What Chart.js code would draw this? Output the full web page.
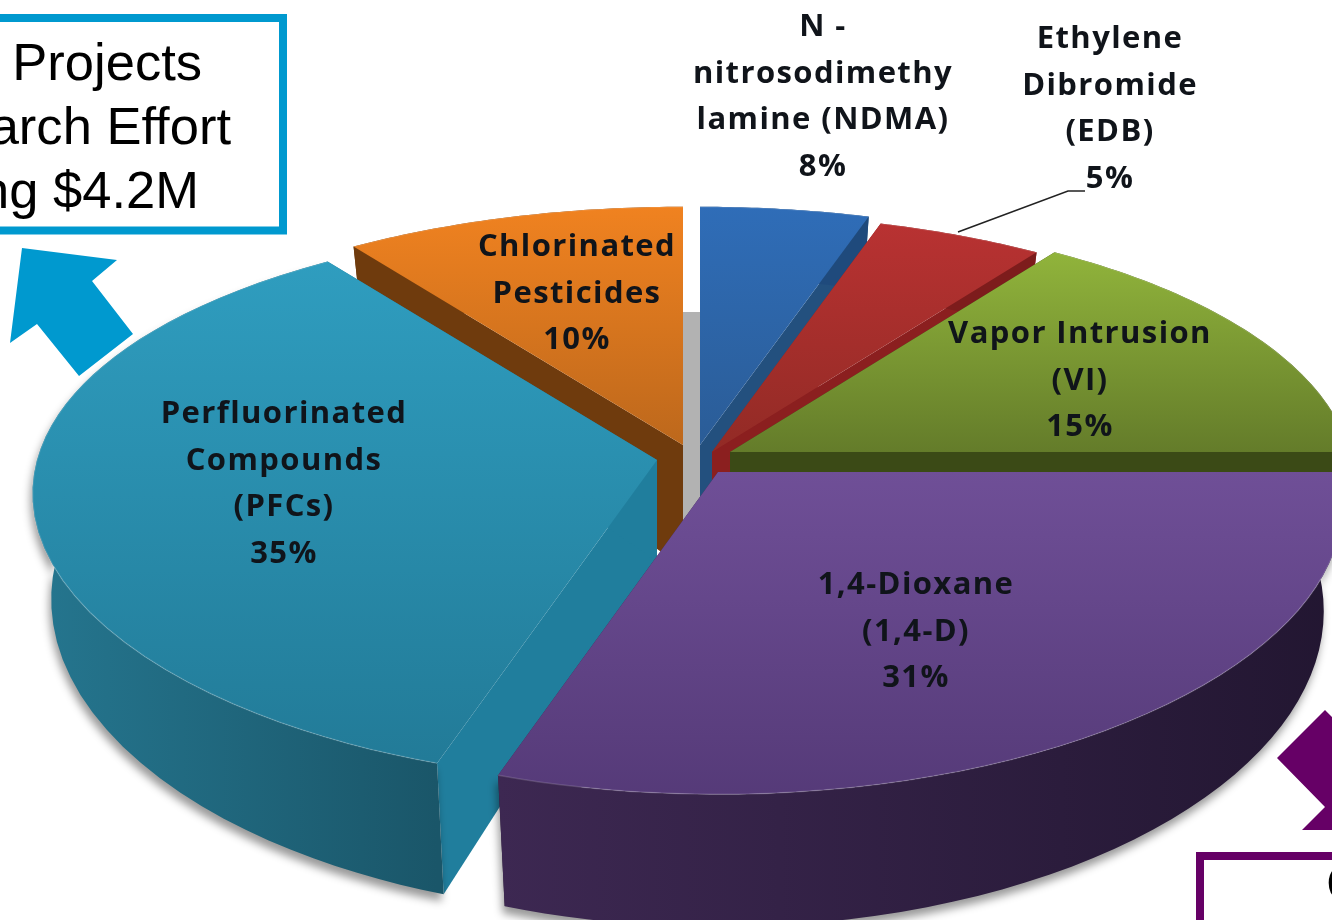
<!DOCTYPE html>
<html>
<head>
<meta charset="utf-8">
<title>Research effort by contaminant</title>
<script src="https://cdn.jsdelivr.net/npm/chart.js@4"></script>
<style>
  html, body { margin: 0; padding: 0; background: #fff; overflow: hidden; }
  canvas { display: block; }
</style>
</head>
<body>
<canvas id="pie" width="1332" height="920"></canvas>
<script>
// chart values, as printed on the slices (they add up to 104)
const categories = [
    "N-nitrosodimethylamine (NDMA)", "Ethylene Dibromide (EDB)", "Vapor Intrusion (VI)",
    "1,4-Dioxane (1,4-D)", "Perfluorinated Compounds (PFCs)", "Chlorinated Pesticides"
];
const percents = [8, 5, 15, 31, 35, 10];
const sliceLabels = [
    ["N -", "nitrosodimethy", "lamine (NDMA)"],
    ["Ethylene", "Dibromide", "(EDB)"],
    ["Vapor Intrusion", "(VI)"],
    ["1,4-Dioxane", "(1,4-D)"],
    ["Perfluorinated", "Compounds", "(PFCs)"],
    ["Chlorinated", "Pesticides"]
];
const blueBoxLines = ["Projects", "arch Effort", "ng $4.2M"];
const purpleBoxLines = ["C"];

// slice styling
const topColors = ["#2f6db8", "#b93232", "#90b33b", "#6f4f97", "#2f9dbf", "#f08220"];
const bottomColors = ["#2a5a92", "#8f2a24", "#647c2a", "#553a78", "#227b98", "#bd681c"];
const gradientSpans = [[205, 480], [220, 470], [255, 452], [472, 800], [262, 760], [207, 445]];
const faceColors = ["#23507e", "#8b1f1f", "#3b4a16", "#3a2549", "#207e9d", "#6f3b0d"];
const wallLeft = ["#1f4a7c", "#7d1c1c", "#3b4a16", "#3d2852", "#25768f", "#6f3b0d"];
const wallRight = ["#1f4a7c", "#7d1c1c", "#3b4a16", "#221631", "#1a5669", "#6f3b0d"];
// where each pulled out slice has its tip
const tipX = [700, 712, 730, 718, 657, 683];
const tipY = [445, 452, 452, 472, 460, 445];
const wallScale = [1, 1, 1, 1, 1, 1.2];
const drawOrder = [5, 0, 1, 2, 4, 3];

// how the flat pie is tilted towards the viewer
const radiusX = 620, radiusY = 274, tilt = 0.15, tiltX = 0.12;
const depth = 102, depthGrow = 0.3, wallNarrow = 0.03;
// the picture's angles drift a little per quadrant, clockwise from 3 o'clock (degrees)
const angleWarp = [0, 7, 4, 1];

function project(el, i, x, y, t) {
    const dx = (x - el.x) / el.outerRadius;
    const dy = (y - el.y) / el.outerRadius;
    const r = Math.hypot(dx, dy);
    const angle = Math.atan2(dy, dx);
    const turn = (angle + 2 * Math.PI) % (2 * Math.PI);
    const quadrant = Math.min(3, Math.floor(turn / (Math.PI / 2)));
    const s2 = Math.sin(2 * angle);
    const a = angle - angleWarp[quadrant] * Math.PI / 180 * s2 * s2;
    const u = r * Math.cos(a);
    const v = r * Math.sin(a);
    return {
        x: tipX[i] + radiusX * u / (1 - tiltX * v) * (1 - wallNarrow * t),
        y: tipY[i] + radiusY * v / (1 - tilt * v) + t * depth * wallScale[i] * (1 + depthGrow * v)
    };
}

// hands the arc element a context that bends its path through project()
function tiltedContext(ctx, el, i) {
    const put = (x, y) => {
        const p = project(el, i, x, y, 0);
        ctx.lineTo(p.x, p.y);
    };
    return new Proxy(ctx, {
        get(target, key) {
            if (key === "lineTo" || key === "moveTo") return put;
            if (key === "arc") {
                return (x, y, r, a0, a1) => {
                    for (let s = 0; s <= 24; s++) {
                        const a = a0 + (a1 - a0) * s / 24;
                        put(x + r * Math.cos(a), y + r * Math.sin(a));
                    }
                };
            }
            const member = target[key];
            return typeof member === "function" ? member.bind(target) : member;
        },
        set(target, key, value) {
            target[key] = value;
            return true;
        }
    });
}

// outer edge of a slice, taken from the path the arc element itself asks for
function sliceRim(el) {
    const rim = [];
    const stub = new Proxy({}, {
        get: (t, key) => key === "arc" ? (x, y, r, a0, a1) => {
            if (r <= 0) return;
            for (let s = 0; s <= 24; s++) {
                const a = a0 + (a1 - a0) * s / 24;
                rim.push([x + r * Math.cos(a), y + r * Math.sin(a)]);
            }
        } : () => {},
        set: () => true
    });
    el.draw(stub);
    return rim;
}

function fillPoints(ctx, pts) {
    ctx.beginPath();
    pts.forEach(p => ctx.lineTo(p.x, p.y));
    ctx.closePath();
    ctx.fill();
}

function drawSlice(ctx, el, i) {
    const rim = sliceRim(el);
    const first = rim[0], last = rim[rim.length - 1];

    // the two cut faces
    ctx.fillStyle = faceColors[i];
    [first, last].forEach(end => {
        fillPoints(ctx, [
            project(el, i, el.x, el.y, 0), project(el, i, end[0], end[1], 0),
            project(el, i, end[0], end[1], 1), project(el, i, el.x, el.y, 1)
        ]);
    });

    // the curved wall
    const top = rim.map(p => project(el, i, p[0], p[1], 0));
    const bottom = rim.map(p => project(el, i, p[0], p[1], 1)).reverse();
    const xs = top.map(p => p.x);
    const wall = ctx.createLinearGradient(Math.min(...xs), 0, Math.max(...xs), 0);
    wall.addColorStop(0, wallLeft[i]);
    wall.addColorStop(1, wallRight[i]);
    ctx.save();
    if (i === 3 || i === 4) {
        ctx.shadowColor = "rgba(0,0,0,0.4)";
        ctx.shadowBlur = 8;
        ctx.shadowOffsetX = -2;
        ctx.shadowOffsetY = 7;
    }
    ctx.fillStyle = wall;
    fillPoints(ctx, top.concat(bottom));
    ctx.restore();

    // the top surface, filled by the element with its own gradient
    el.draw(tiltedContext(ctx, el, i));

    // faint light edge between top and wall
    ctx.strokeStyle = "rgba(255,255,255,0.14)";
    ctx.lineWidth = 1.5;
    ctx.beginPath();
    top.forEach(p => ctx.lineTo(p.x, p.y));
    ctx.stroke();
}

const tiltedPie = {
    id: "tiltedPie",
    beforeDatasetsDraw(chart) {
        const ctx = chart.ctx;
        const arcs = chart.getDatasetMeta(0).data;
        drawOrder.forEach(i => {
            ctx.save();
            // the two slices beside the gap stop at its edges
            if (i === 5) { ctx.beginPath(); ctx.rect(0, 0, 683, 920); ctx.clip(); }
            if (i === 0) {
                ctx.fillStyle = "#b2b2b2";
                ctx.fillRect(683, 312, 17, 220);
                ctx.beginPath(); ctx.rect(700, 0, 632, 920); ctx.clip();
            }
            drawSlice(ctx, arcs[i], i);
            ctx.restore();
        });
        return false;
    },
    afterDraw(chart) {
        const ctx = chart.ctx;
        drawSliceText(ctx);
        drawCallouts(ctx);
    }
};

function drawSliceText(ctx) {
    const textX = [823, 1110, 1080, 916, 284, 577];
    const textY = [36, 48, 343, 594, 423, 256];
    const step = 46.7;
    ctx.save();
    ctx.font = "700 31px 'Open Sans'";
    ctx.letterSpacing = "1.4px";
    ctx.fillStyle = "#10141a";
    ctx.textAlign = "center";
    ctx.textBaseline = "alphabetic";
    percents.forEach((value, i) => {
        const lines = sliceLabels[i].concat(value + "%");
        lines.forEach((line, n) => ctx.fillText(line, textX[i], textY[i] + n * step));
    });
    ctx.restore();

    // leader line of the EDB slice
    ctx.strokeStyle = "#222";
    ctx.lineWidth = 1.5;
    ctx.beginPath();
    ctx.moveTo(958, 232);
    ctx.lineTo(1068, 191);
    ctx.lineTo(1085, 191);
    ctx.stroke();
}

function polygon(ctx, color, pts) {
    ctx.fillStyle = color;
    ctx.beginPath();
    pts.forEach(p => ctx.lineTo(p[0], p[1]));
    ctx.closePath();
    ctx.fill();
}

function drawCallouts(ctx) {
    const blue = "#0099cf", purple = "#660066";
    ctx.lineWidth = 8;
    ctx.strokeStyle = blue;
    ctx.strokeRect(-20, 18, 303, 212.5);
    polygon(ctx, blue, [[22, 248], [117, 260], [92, 281], [133, 334], [79, 376], [37, 324], [10, 343]]);

    ctx.strokeStyle = purple;
    ctx.strokeRect(1200, 856, 200, 100);
    polygon(ctx, purple, [[1325, 710], [1277, 758], [1325, 807], [1302, 830], [1332, 830], [1332, 717]]);

    ctx.fillStyle = "#000";
    ctx.font = "52.5px 'Liberation Sans'";
    ctx.letterSpacing = "0.01px";
    ctx.textAlign = "right";
    const rightEdges = [202, 231, 199];
    const baselines = [80, 144, 208];
    blueBoxLines.forEach((line, n) => ctx.fillText(line, rightEdges[n], baselines[n]));
    ctx.textAlign = "left";
    ctx.fillText(purpleBoxLines[0], 1326, 901);
}

new Chart(document.getElementById("pie"), {
    type: "pie",
    data: {
        labels: categories,
        datasets: [{
            data: percents,
            borderWidth: 0,
            clip: false,
            // one percent is 3.6 degrees, so the 104 printed percent run past a full turn
            circumference: 360 * percents.reduce((a, b) => a + b, 0) / 100,
            rotation: -10.8,
            backgroundColor(c) {
                const i = c.dataIndex;
                const g = c.chart.ctx.createLinearGradient(0, gradientSpans[i][0], 0, gradientSpans[i][1]);
                g.addColorStop(0, topColors[i]);
                g.addColorStop(1, bottomColors[i]);
                return g;
            }
        }]
    },
    options: {
        responsive: false,
        animation: false,
        plugins: {
            legend: { display: false },
            tooltip: { enabled: false }
        }
    },
    plugins: [tiltedPie]
});
</script>
</body>
</html>
